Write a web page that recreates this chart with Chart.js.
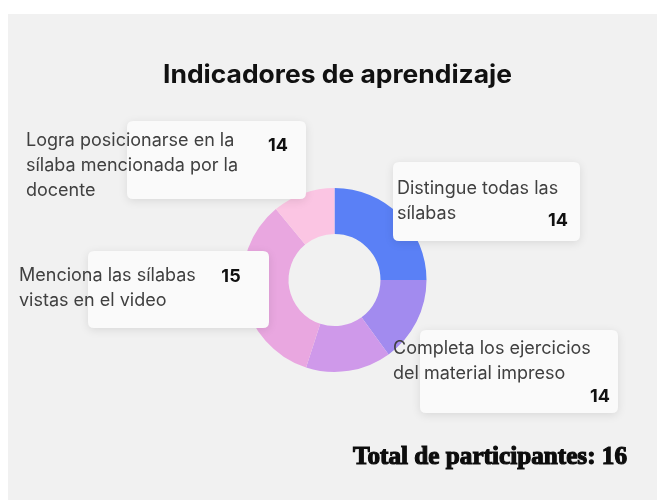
<!DOCTYPE html>
<html>
<head>
<meta charset="utf-8">
<script src="https://cdn.jsdelivr.net/npm/chart.js@4/dist/chart.umd.min.js"></script>
<style>
  html, body { margin: 0; padding: 0; background: #ffffff; }
  canvas { display: block; }
</style>
</head>
<body>
<canvas id="chart" width="657" height="500"></canvas>
<script>
// ring shares (percent of the circle)
var ringShares = [25, 15, 15, 34, 11];
var ringColors = ["#5a80f6", "#a28bef", "#cf99ea", "#e9a7e0", "#fbc5e3"];

// indicator cards
var indicatorLines = [
    ["Logra posicionarse en la", "sílaba mencionada por la", "docente"],
    ["Distingue todas las", "sílabas"],
    ["Menciona las sílabas", "vistas en el video"],
    ["Completa los ejercicios", "del material impreso"]
];
var indicatorValues = [14, 14, 15, 14];
var totalParticipants = 16;

// card boxes [x, y, w, h], text origin, value position
var cards = [
    { box: [127, 121, 179, 78], text: [26, 141], value: [278, 146] },
    { box: [393, 162, 187, 79], text: [397, 189], value: [558, 221] },
    { box: [88, 251, 181, 77], text: [19, 276], value: [231, 277] },
    { box: [420, 330, 198, 83], text: [393, 349], value: [600, 397] }
];

function roundRect(ctx, x, y, w, h, r) {
    ctx.beginPath();
    ctx.moveTo(x + r, y);
    ctx.lineTo(x + w - r, y);
    ctx.quadraticCurveTo(x + w, y, x + w, y + r);
    ctx.lineTo(x + w, y + h - r);
    ctx.quadraticCurveTo(x + w, y + h, x + w - r, y + h);
    ctx.lineTo(x + r, y + h);
    ctx.quadraticCurveTo(x, y + h, x, y + h - r);
    ctx.lineTo(x, y + r);
    ctx.quadraticCurveTo(x, y, x + r, y);
    ctx.closePath();
}

// draws text squeezed/stretched to a given width
function fitText(ctx, text, x, y, width) {
    var w = ctx.measureText(text).width;
    ctx.save();
    ctx.translate(x, y);
    ctx.scale(width / w, 1);
    ctx.fillText(text, 0, 0);
    ctx.restore();
}

var panelPlugin = {
    id: 'panel',
    beforeDraw: function (chart) {
        var ctx = chart.ctx;
        ctx.save();
        ctx.fillStyle = "#f1f1f1";
        ctx.fillRect(8, 14, chart.width - 8, chart.height - 14);
        ctx.restore();
    },
    afterDraw: function (chart) {
        var ctx = chart.ctx;
        ctx.save();

        // title
        ctx.fillStyle = "#111111";
        ctx.font = "bold 25px Inter";
        ctx.textAlign = "left";
        ctx.textBaseline = "middle";
        fitText(ctx, "Indicadores de aprendizaje", 163, 75, 349);

        // cards
        cards.forEach(function (c, i) {
            ctx.save();
            ctx.shadowColor = "rgba(0,0,0,0.10)";
            ctx.shadowBlur = 10;
            ctx.shadowOffsetY = 2;
            ctx.fillStyle = "#fafafa";
            roundRect(ctx, c.box[0], c.box[1], c.box[2], c.box[3], 6);
            ctx.fill();
            ctx.restore();

            ctx.fillStyle = "#404040";
            ctx.font = "18px Inter";
            ctx.textAlign = "left";
            ctx.textBaseline = "middle";
            indicatorLines[i].forEach(function (line, j) {
                ctx.fillText(line, c.text[0], c.text[1] + j * 25);
            });

            ctx.fillStyle = "#111111";
            ctx.font = "bold 18px Inter";
            ctx.textAlign = "center";
            ctx.fillText(String(indicatorValues[i]), c.value[0], c.value[1]);
        });

        // total
        ctx.fillStyle = "#0d0d0d";
        ctx.strokeStyle = "#0d0d0d";
        ctx.lineWidth = 1.2;
        ctx.font = "bold 26px 'Liberation Serif'";
        ctx.textAlign = "left";
        ctx.textBaseline = "middle";
        var totalText = "Total de participantes: " + totalParticipants;
        var tw = ctx.measureText(totalText).width;
        ctx.save();
        ctx.translate(353, 457);
        ctx.scale(274 / tw, 1);
        ctx.fillText(totalText, 0, 0);
        ctx.strokeText(totalText, 0, 0);
        ctx.restore();

        ctx.restore();
    }
};

var ctx = document.getElementById("chart").getContext("2d");
new Chart(ctx, {
    type: 'doughnut',
    data: {
        labels: ["Distingue", "Completa", "Menciona (a)", "Menciona (b)", "Logra"],
        datasets: [{
            data: ringShares,
            backgroundColor: ringColors,
            borderWidth: 0,
            hoverOffset: 0
        }]
    },
    options: {
        responsive: false,
        animation: false,
        cutout: '50%',
        layout: { padding: { left: 12, right: 0, top: 188, bottom: 128 } },
        plugins: {
            legend: { display: false },
            tooltip: { enabled: false },
            title: { display: false }
        }
    },
    plugins: [panelPlugin]
});
</script>
</body>
</html>
